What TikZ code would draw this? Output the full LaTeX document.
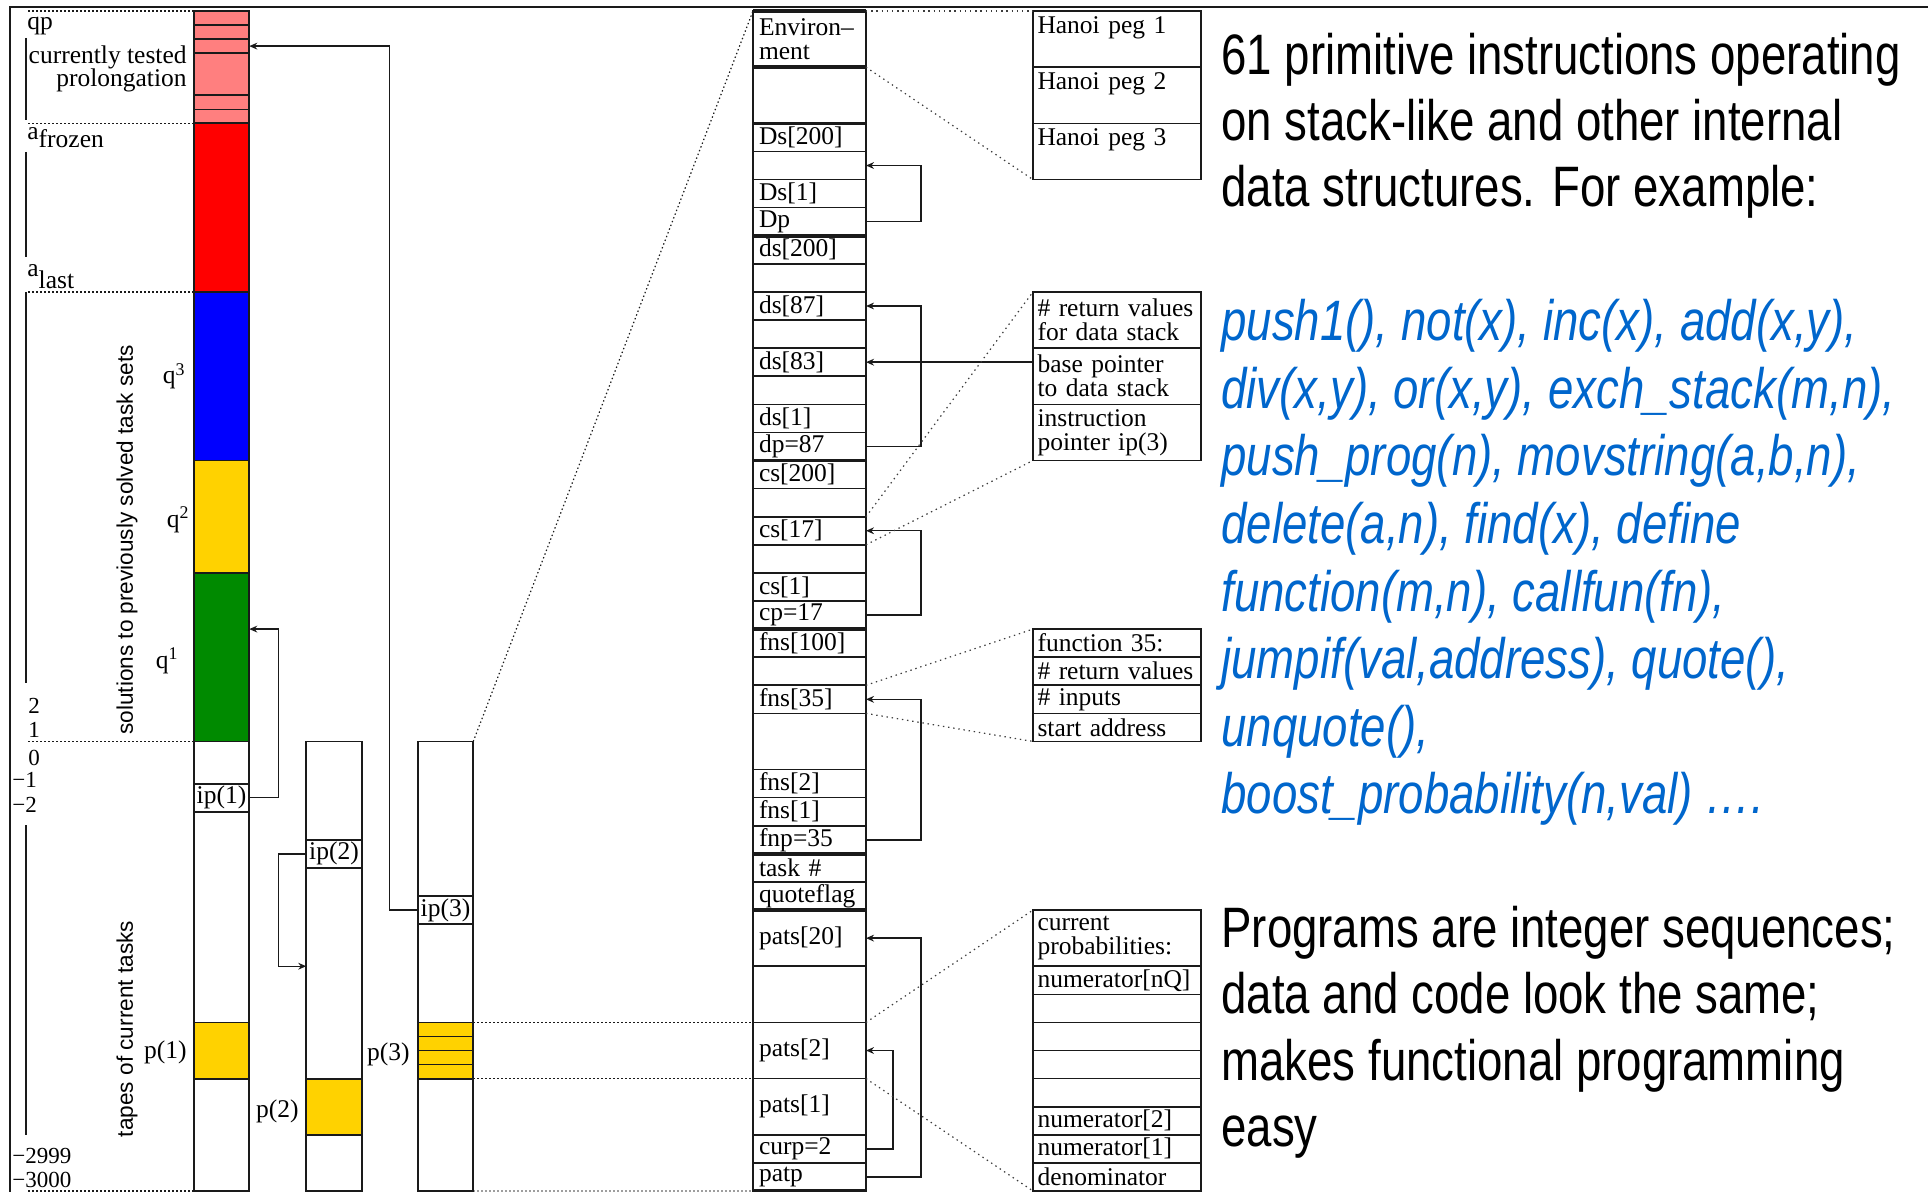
\documentclass[tikz,border=0pt]{standalone}
\usepackage{fontspec}
\setmainfont{Liberation Serif}
\newfontfamily\slidesans[FakeStretch=0.8]{Liberation Sans}
\newfontfamily\slideital[FakeStretch=0.8]{Liberation Sans}
\newfontfamily\axissans{Liberation Sans}
\usetikzlibrary{arrows.meta}

\definecolor{pinkc}{HTML}{FF7F7F}
\definecolor{redc}{HTML}{FF0000}
\definecolor{bluec}{HTML}{0000FF}
\definecolor{yelc}{HTML}{FFD200}
\definecolor{greenc}{HTML}{008A00}
\definecolor{inkc}{HTML}{1A1A1A}
\definecolor{slideblue}{HTML}{0066CC}

\newcommand\cellfont{\fontsize{12.75pt}{12pt}\selectfont}
\newcommand\numfont{\fontsize{11.5pt}{12pt}\selectfont}
% stack cell: name, first row, last row, text
\newcommand\stk[4]{\node[stkcell,minimum height={(#3-#2)*14.0475pt}] (#1) at (809.5,{ry((#2+#3)/2)}) {#4};}
% row of a side table: [extra style], name, first row, last row, text
\newcommand\bxr[5][]{\node[boxcell,minimum height={(#4-#3)*14.0475pt},#1] (#2) at (1117,{ry((#3+#4)/2)}) {#5};}

\begin{document}
\begin{tikzpicture}[x=0.5pt,y=-0.5pt,
  declare function={ry(\k)=11+28.095*\k;},
  stkcell/.style={draw=inkc,line width=0.8pt,rectangle,text width=50.5pt,
    inner xsep=3pt,inner ysep=0pt,align=left,font=\cellfont,outer sep=0pt},
  boxcell/.style={draw=inkc,line width=0.8pt,rectangle,text width=79.5pt,
    inner xsep=2.25pt,inner ysep=0pt,align=left,font=\cellfont,outer sep=0pt},
  toptext/.style={text height=11pt,text depth=17pt},
  colseg/.style={draw=inkc,line width=0.9pt,rectangle,minimum width=27.75pt,
    inner sep=0pt,outer sep=0pt},
  ipcell/.style={colseg,fill=white,font=\cellfont,minimum height=14.0475pt},
  ptr/.style={draw=inkc,line width=0.7pt,-{Stealth[length=4pt,width=3.4pt]}},
  dots/.style={draw=inkc,line width=0.6pt,dash pattern=on 0.7pt off 1.3pt},
  fdots/.style={draw=inkc!85,line width=0.6pt,dash pattern=on 0.7pt off 1.9pt},
  lbl/.style={inner sep=0pt,font=\cellfont},
  nlbl/.style={inner sep=0pt,font=\numfont,anchor=base west},
  slide/.style={inner sep=0pt,anchor=base west,
    font=\slidesans\fontsize{28.5pt}{33pt}\selectfont},
  slideb/.style={inner sep=0pt,anchor=base west,text=slideblue,
    font=\slideital\itshape\fontsize{28.5pt}{33.5pt}\selectfont},
  sidelbl/.style={inner sep=0pt,rotate=90,
    font=\axissans\fontsize{11.3pt}{13pt}\selectfont}]

\useasboundingbox (0,0) rectangle (1928,1192);

% frame
\draw[inkc,line width=0.9pt] (10,1192) -- (10,7) -- (1928,7);

% ---------- left: the tape column with solved-task segments ----------
\node[colseg,fill=pinkc,minimum height={4*14.0475pt}] (pinkseg) at (221.5,{ry(2)}) {};
\node[colseg,fill=redc,minimum height={6*14.0475pt}] (redseg) at (221.5,{ry(7)}) {};
\node[colseg,fill=bluec,minimum height={6*14.0475pt}] (blueseg) at (221.5,{ry(13)}) {};
\node[colseg,fill=yelc,minimum height={4*14.0475pt}] (yelseg) at (221.5,{ry(18)}) {};
\node[colseg,fill=greenc,minimum height={6*14.0475pt}] (greenseg) at (221.5,{ry(23)}) {};
\node[colseg,fill=white,minimum height={16*14.0475pt}] (tape1) at (221.5,{ry(34)}) {};
\node[colseg,fill=yelc,minimum height={2*14.0475pt}] (p1seg) at (221.5,{ry(37)}) {};
\node[ipcell] (ip1) at (221.5,{ry(28)}) {ip(1)};
\foreach \k in {0.5,1,1.5,3,3.5}
  \draw[inkc,line width=0.8pt] (194,{ry(\k)}) -- (249,{ry(\k)});

% second and third tapes
\node[colseg,fill=white,minimum height={16*14.0475pt}] (tape2) at (334,{ry(34)}) {};
\node[colseg,fill=yelc,minimum height={2*14.0475pt}] (p2seg) at (334,{ry(39)}) {};
\node[ipcell] (ip2) at (334,{ry(30)}) {ip(2)};

\node[colseg,fill=white,minimum height={16*14.0475pt}] (tape3) at (445.5,{ry(34)}) {};
\node[colseg,fill=yelc,minimum height={2*14.0475pt}] (p3seg) at (445.5,{ry(37)}) {};
\node[ipcell] (ip3) at (445.5,{ry(32)}) {ip(3)};
\foreach \k in {36.5,37,37.5}
  \draw[inkc,line width=0.8pt] (418,{ry(\k)}) -- (473,{ry(\k)});

% dotted level marks left of the first tape
\draw[dots] (pinkseg.north west) -- ++(-166,0);
\draw[dots] (redseg.north west) -- ++(-166,0);
\draw[dots] (blueseg.north west) -- ++(-166,0);
\draw[dots] (tape1.north west) -- ++(-166,0);
\draw[dots] (tape1.south west) -- ++(-166,0);

% bracket rule
\draw[inkc,line width=0.8pt] (26,38) -- (26,120);
\draw[inkc,line width=0.8pt] (26,152) -- (26,257);
\draw[inkc,line width=0.8pt] (26,292) -- (26,683);
\draw[inkc,line width=0.8pt] (26,825) -- (26,1135);

% left labels
\node[lbl,anchor=base west] (lqp) at (27,29.5) {qp};
\node[lbl,anchor=base east] (lcur) at (187,64) {currently tested};
\node[lbl,anchor=base east] (lprol) at (187,87) {prolongation};
\node[lbl,anchor=base west] (lfroz) at (27,140) {a\raisebox{-4pt}{frozen}};
\node[lbl,anchor=base west] (llast) at (27,277) {a\raisebox{-6pt}{last}};
\node[nlbl] (n2) at (28,713) {2};
\node[nlbl] (n1) at (28,737) {1};
\node[nlbl] (n0) at (28,765) {0};
\node[nlbl] (nm1) at (12,787) {−1};
\node[nlbl] (nm2) at (12,812) {−2};
\node[nlbl] (nm2999) at (12,1163) {−2999};
\node[nlbl] (nm3000) at (12,1187) {−3000};
\node[lbl,anchor=base east] (lq3) at (186,384) {q\textsuperscript{3}};
\node[lbl,anchor=base east] (lq2) at (190,527) {q\textsuperscript{2}};
\node[lbl,anchor=base east] (lq1) at (179,668) {q\textsuperscript{1}};
\node[lbl,anchor=base east] (lp1) at (187,1058) {p(1)};
\node[lbl,anchor=base east] (lp2) at (299,1117) {p(2)};
\node[lbl,anchor=base east] (lp3) at (410,1060) {p(3)};
\node[sidelbl] (lsolved) at (127,540) {solutions to previously solved task sets};
\node[sidelbl] (ltapes) at (127,1029) {tapes of current tasks};

% instruction pointers of the tapes
\coordinate (q1tgt) at (249.25,{ry(22)});
\coordinate (t2tgt) at (306.25,{ry(34)});
\coordinate (pktgt) at (249.25,{ry(1.25)});
\draw[ptr] (ip1.east) -- ++(29,0) |- (q1tgt);
\draw[ptr] (ip2.west) -- ++(-28,0) |- (t2tgt);
\draw[ptr] (ip3.west) -- ++(-28,0) |- (pktgt);

% ---------- middle: internal state of task 3 ----------
\stk{env}{0}{2}{Environ--\\ment}
\stk{envB}{2}{4}{}
\stk{Dsh}{4}{5}{Ds[200]}
\stk{DsA}{5}{6}{}
\stk{Dsl}{6}{7}{Ds[1]}
\stk{Dptr}{7}{8}{Dp}
\stk{dsh}{8}{9}{ds[200]}
\stk{dsA}{9}{10}{}
\stk{ds87}{10}{11}{ds[87]}
\stk{dsB}{11}{12}{}
\stk{ds83}{12}{13}{ds[83]}
\stk{dsC}{13}{14}{}
\stk{dsl}{14}{15}{ds[1]}
\stk{dptr}{15}{16}{dp=87}
\stk{csh}{16}{17}{cs[200]}
\stk{csA}{17}{18}{}
\stk{cs17}{18}{19}{cs[17]}
\stk{csB}{19}{20}{}
\stk{csl}{20}{21}{cs[1]}
\stk{cptr}{21}{22}{cp=17}
\stk{fnsh}{22}{23}{fns[100]}
\stk{fnsA}{23}{24}{}
\stk{fns35}{24}{25}{fns[35]}
\stk{fnsB}{25}{27}{}
\stk{fnstwo}{27}{28}{fns[2]}
\stk{fnsone}{28}{29}{fns[1]}
\stk{fnptr}{29}{30}{fnp=35}
\stk{task}{30}{31}{task \#}
\stk{qflag}{31}{32}{quoteflag}
\stk{patsh}{32}{34}{pats[20]}
\stk{patsA}{34}{36}{}
\stk{patstwo}{36}{38}{pats[2]}
\stk{patsone}{38}{40}{pats[1]}
\stk{curp}{40}{41}{curp=2}
\stk{patp}{41}{42}{patp}
\foreach \k in {0,2,4,8,16,22,30,32,42}
  \draw[inkc,line width=1.8pt] (753,{ry(\k)}) -- (866,{ry(\k)});

% stack pointers
\draw[ptr] (Dptr.east) -- ++(55,0) |- (DsA.east);
\draw[ptr] (dptr.east) -- ++(55,0) |- (ds87.east);
\draw[ptr] (cptr.east) -- ++(55,0) |- (cs17.east);
\draw[ptr] (fnptr.east) -- ++(55,0) |- (fns35.east);
\draw[ptr] (patp.east) -- ++(55,0) |- (patsh.east);
\draw[ptr] (curp.east) -- ++(27,0) |- (patstwo.east);

% ---------- right: expanded entries ----------
\bxr[toptext]{hanoiA}{0}{2}{Hanoi peg 1}
\bxr[toptext]{hanoiB}{2}{4}{Hanoi peg 2}
\bxr[toptext]{hanoiC}{4}{6}{Hanoi peg 3}
\bxr{retv}{10}{12}{\# return values\\for data stack}
\bxr{bptr}{12}{14}{base pointer\\to data stack}
\bxr{ipbox}{14}{16}{instruction\\pointer ip(3)}
\bxr{fnhead}{22}{23}{function 35:}
\bxr{fnret}{23}{24}{\# return values}
\bxr{fnin}{24}{25}{\# inputs}
\bxr{fnstart}{25}{26}{start address}
\bxr{probhead}{32}{34}{\fontsize{12.75pt}{11pt}\selectfont current\\probabilities:}
\bxr{numnq}{34}{35}{numerator[nQ]}
\bxr{pe1}{35}{36}{}
\bxr{pe2}{36}{37}{}
\bxr{pe3}{37}{38}{}
\bxr{pe4}{38}{39}{}
\bxr{numtwo}{39}{40}{numerator[2]}
\bxr{numone}{40}{41}{numerator[1]}
\bxr{denom}{41}{42}{denominator}

\draw[ptr] (ds83.east -| bptr.west) -- (ds83.east);

% dotted zoom lines
\draw[dots] (tape3.north east) -- (env.north west);
\draw[dots] (p3seg.north east) -- (patstwo.north west);
\draw[dots] (p3seg.south east) -- (patsone.north west);
\draw[dots] (tape3.south east) -- (patp.south west);
\draw[fdots] (env.north east) -- (hanoiA.north west);
\draw[fdots] (envB.north east) -- (hanoiC.south west);
\draw[fdots] (cs17.north east) -- (retv.north west);
\draw[fdots] (cs17.south east) -- (ipbox.south west);
\draw[fdots] (fns35.north east) -- (fnhead.north west);
\draw[fdots] (fns35.south east) -- (fnstart.south west);
\draw[fdots] (patstwo.north east) -- (probhead.north west);
\draw[fdots] (patstwo.south east) -- (denom.south west);

% ---------- slide text ----------
\node[slide] (tA) at (1221,75) {61 primitive instructions operating};
\node[slide] (tB) at (1221,141) {on stack-like and other internal};
\node[slide] (tC) at (1221,207) {data structures. For example:};
\node[slideb] (bA) at (1221,341) {push1(), not(x), inc(x), add(x,y),};
\node[slideb] (bB) at (1221,408.5) {div(x,y), or(x,y), exch\_stack(m,n),};
\node[slideb] (bC) at (1221,476) {push\_prog(n), movstring(a,b,n),};
\node[slideb] (bD) at (1221,543.5) {delete(a,n), find(x), define};
\node[slideb] (bE) at (1221,611) {function(m,n), callfun(fn),};
\node[slideb] (bF) at (1221,678.5) {jumpif(val,address), quote(),};
\node[slideb] (bG) at (1221,746) {unquote(),};
\node[slideb] (bH) at (1221,813.5) {boost\_probability(n,val) ….};
\node[slide] (pA) at (1221,947) {Programs are integer sequences;};
\node[slide] (pB) at (1221,1013.5) {data and code look the same;};
\node[slide] (pC) at (1221,1080) {makes functional programming};
\node[slide] (pD) at (1221,1146.5) {easy};
\end{tikzpicture}
\end{document}
